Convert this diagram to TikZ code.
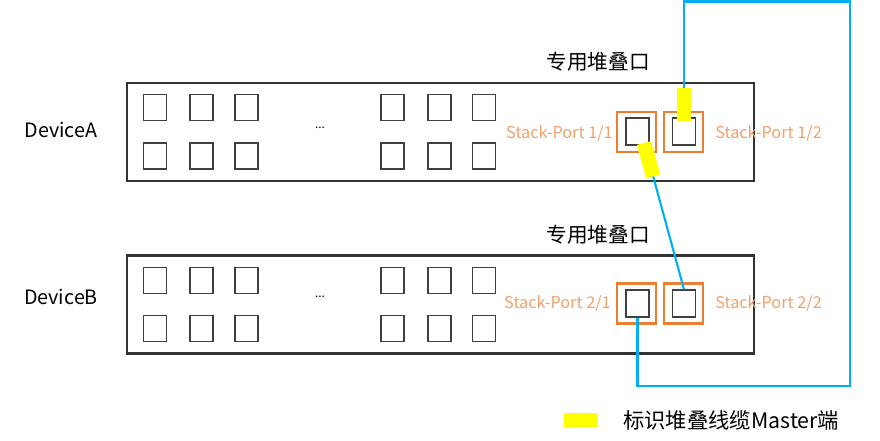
\documentclass[tikz,border=0pt]{standalone}
\usepackage{fontspec}
\setmainfont{Noto Sans CJK SC}
\usetikzlibrary{positioning,calc}
\definecolor{DevBorder}{HTML}{333333}
\definecolor{PortBorder}{HTML}{404040}
\definecolor{StackOrange}{HTML}{ED7D31}
\definecolor{StackText}{HTML}{F4A06A}
\definecolor{CableBlue}{HTML}{00B0F0}
\definecolor{MasterYellow}{HTML}{FFFF00}

\begin{document}
\begin{tikzpicture}[
  x=0.75pt,y=-0.75pt,
  device/.style={draw=DevBorder,line width=1.6pt,minimum width=470pt,minimum height=73.5pt,inner sep=0pt},
  portsq/.style={draw=PortBorder,line width=1.1pt,fill=white,minimum width=17pt,minimum height=19.5pt,inner sep=0pt},
  stackbox/.style={draw=StackOrange,line width=1.9pt,minimum width=29pt,minimum height=30pt,inner sep=0pt},
  stacksq/.style={draw=PortBorder,line width=1.1pt,minimum width=17pt,minimum height=20pt,inner sep=0pt},
  stacklbl/.style={text=StackText,font=\fontsize{12.2}{14}\selectfont,inner sep=0pt},
  devlbl/.style={font=\fontsize{14.8}{17}\selectfont,inner sep=0pt},
  cjklbl/.style={font=\fontsize{15.5}{18}\selectfont,inner sep=0pt},
  cable/.style={draw=CableBlue,line width=1.6pt},
  master/.style={draw=MasterYellow,line width=11pt}
]
\useasboundingbox (0,0) rectangle (880,441);

% devices
\node[device] (devA) at (440.5,132) {};
\node[device] (devB) at (440.5,304.5) {};
\node[devlbl] (lblA) at (61,130) {DeviceA};
\node[devlbl] (lblB) at (61,297) {DeviceB};

% ordinary ports
\foreach \x [count=\i] in {155,201.5,246.5,392.5,439.5,484} {
  \node[portsq] (a\i-1) at (\x,107.5) {};
  \node[portsq] (a\i-2) at (\x,156) {};
  \node[portsq] (b\i-1) at (\x,280.5) {};
  \node[portsq] (b\i-2) at (\x,328.5) {};
}
\node[font=\fontsize{9}{10}\selectfont] (dotsA) at (320,128) {...};
\node[font=\fontsize{9}{10}\selectfont] (dotsB) at (320,297) {...};

% stack ports
\node[cjklbl] (capA) at (598,62) {专用堆叠口};
\node[cjklbl] (capB) at (598,235) {专用堆叠口};

\node[stackbox] (oa11) at (636.5,132) {};
\node[stacksq] (pa11) at (637.5,131.5) {};
\node[stackbox] (oa12) at (683.5,132) {};
\node[stacksq] (pa12) at (684,131.5) {};
\node[stackbox] (ob21) at (636.5,303.5) {};
\node[stacksq] (pb21) at (637.5,303.5) {};
\node[stackbox] (ob22) at (683.5,303.5) {};
\node[stacksq] (pb22) at (684,303.5) {};

\node[stacklbl,anchor=east] (la11) at (613,133) {Stack-Port 1/1};
\node[stacklbl,anchor=west] (la12) at (715,133) {Stack-Port 1/2};
\node[stacklbl,anchor=east] (lb21) at (611,303) {Stack-Port 2/1};
\node[stacklbl,anchor=west] (lb22) at (715,303) {Stack-Port 2/2};

% cables
\coordinate (ctop) at (850,1.5);
\coordinate (cbot) at ($(pb21.south)+(0,68)$);
\draw[cable] (pa12.north) |- (ctop) |- (cbot) -- (pb21.south);
\coordinate (cstart) at ($(pa11.south)!0.6!(pa11.south east)$);
\draw[cable] (cstart) -- (pb22.north);

% master ends
\draw[master] (pa12.north) ++(0,-29) -- ++(0,33);
\draw[master] ($(cstart)!-2pt!(pb22.north)$) -- ($(cstart)!24pt!(pb22.north)$);

% legend
\node[fill=MasterYellow,minimum width=24.75pt,minimum height=10.5pt,inner sep=0pt] (legkey) at (580.5,420) {};
\node[cjklbl,anchor=west,font=\fontsize{16}{18}\selectfont] (legtxt) at (623,420) {标识堆叠线缆Master端};
\end{tikzpicture}
\end{document}
